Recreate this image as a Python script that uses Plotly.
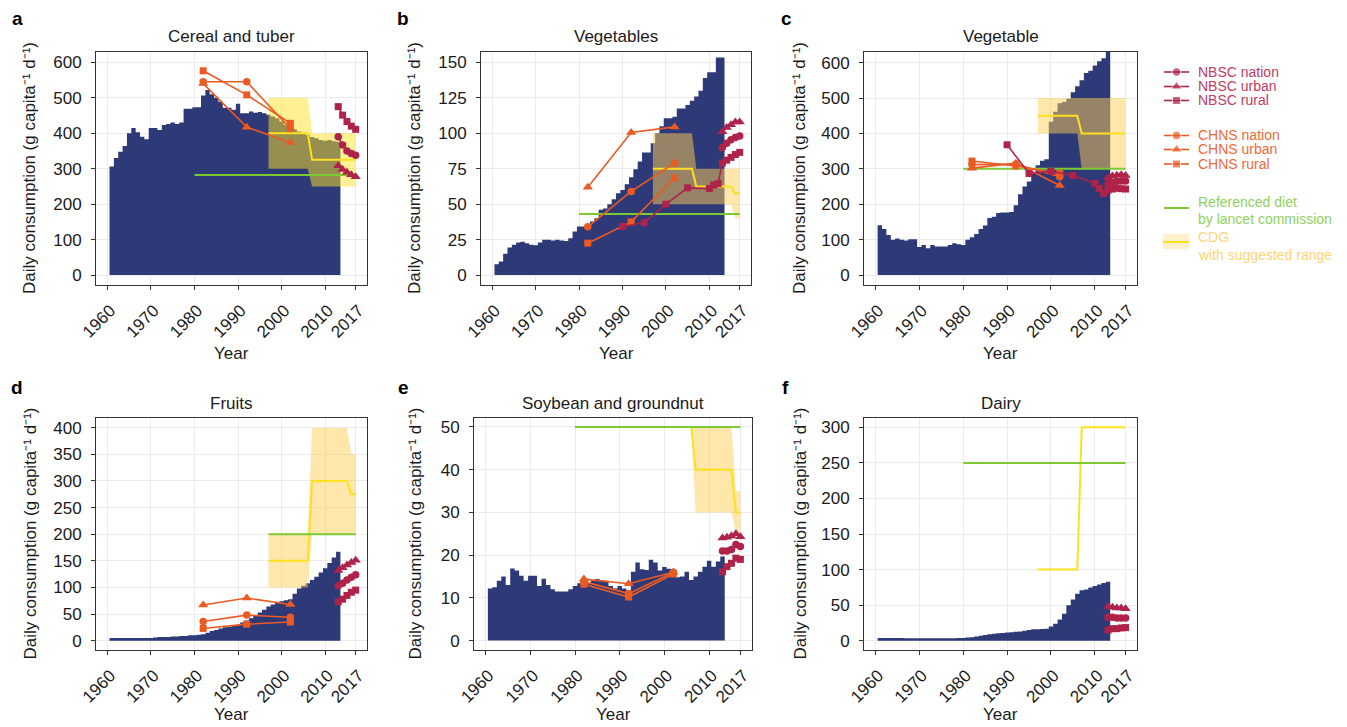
import plotly.graph_objects as go

W, H = 1347, 727
FONT = "Liberation Sans, Arial, Helvetica, sans-serif"

# ---------------- data ----------------
years = list(range(1961, 2014))

cereal_tuber = [306, 330, 348, 364, 400, 415, 403, 390, 383, 415,
                415, 409, 423, 426, 430, 426, 430, 469, 469, 473,
                473, 506, 522, 510, 500, 489, 472, 472, 466, 483,
                456, 456, 461, 458, 460, 456, 452, 447, 442, 433,
                423, 419, 411, 405, 400, 395, 389, 386, 381, 379,
                381, 377, 376]
vegetables_b = [7.7, 9.6, 15, 19.5, 21.4, 23, 23.5, 22.5, 21.4, 21,
                23, 24.9, 24.9, 24.4, 24.9, 24.4, 24, 26, 30.8, 34.3,
                34.3, 36, 37.8, 40, 46, 47, 50, 53.5, 57.7, 60,
                64, 69, 74.6, 80, 86.4, 86.4, 93, 100, 105, 110.6,
                110.6, 111.7, 117.4, 117.4, 120, 123, 126, 130, 139, 143,
                143, 153.5, 153.5]
vegetable_c = [141, 130, 113, 100, 103, 100, 98, 101, 101, 79,
               85, 76, 85, 81, 81, 81, 85, 90, 87, 85,
               100, 107, 116, 130, 140, 161, 165, 175, 177, 177,
               178, 197, 228, 250, 264, 287, 310, 323, 327, 433,
               461, 485, 489, 498, 516, 533, 550, 571, 577, 592,
               604, 612, 630]
fruits = [5, 5, 5, 5, 5, 5, 5, 5, 5, 5,
          6, 7, 7, 7, 8, 8, 9, 9, 10, 10,
          11, 12, 15, 18, 20, 23, 25, 26, 28, 30,
          34, 38, 42, 48, 53, 58, 64, 68, 71, 74,
          76, 78, 88, 98, 103, 108, 114, 120, 128, 136,
          146, 156, 167]
soy_groundnut = [12.2, 12.5, 14, 15, 13, 16.9, 16.4, 15.2, 14, 15.2,
                 15.2, 12.8, 14.5, 13, 12, 11.5, 11.5, 11.5, 12, 12.8,
                 13.4, 14, 13.4, 14, 14.4, 14.2, 14, 12.8, 12.2, 12.8,
                 12.2, 11.5, 16.1, 18.3, 16.7, 16.5, 18.9, 18.3, 16.4, 17.2,
                 16.8, 16.1, 14.8, 15.0, 16.1, 14.2, 15.0, 16.1, 17.3, 18.7,
                 17.3, 18.5, 19.7]
dairy = [4, 4, 4, 4, 4, 4, 3.5, 3.5, 3.5, 3.5,
         3.5, 3.5, 3.5, 3.5, 3.5, 3.5, 3.5, 3.5, 4, 4,
         4.5, 5, 6, 7, 8, 9, 10, 10.5, 11, 11.5,
         12, 12.5, 13, 14, 15, 16, 16, 16.5, 17, 20,
         24, 30, 38, 50, 58, 66, 71, 72, 75, 77,
         79, 81, 83]

# CHNS surveys
chns_years = [1982, 1992, 2002]
chns_nation_a = [545, 545, 413]
chns_urban_a = [540, 417, 374]
chns_rural_a = [576, 508, 428]
chns_nation_b = [34, 59, 79]
chns_urban_b = [62, 100.5, 104.5]
chns_rural_b = [22.5, 37.5, 68.5]
chns_nation_c = [312, 313, 278]
chns_urban_c = [302, 316, 253]
chns_rural_c = [322, 308, 287]
chns_nation_d = [36, 48, 44]
chns_urban_d = [67, 80, 68]
chns_rural_d = [23, 31, 35]
chns_nation_e = [13.8, 11, 16]
chns_urban_e = [14.4, 13.3, 16]
chns_rural_e = [13.2, 10.2, 15.6]

# NBSC statistics
nbsc_years = [2013, 2014, 2015, 2016, 2017]
nbsc_rural_long_years = [1990, 1995, 2000, 2005, 2010, 2011, 2012, 2013, 2014, 2015, 2016, 2017]
nbsc_nation_a = [390, 367, 350, 343, 338]
nbsc_urban_a = [308, 298, 290, 283, 277]
nbsc_rural_a = [475, 451, 433, 420, 411]
nbsc_nation_b = [90, 93, 95.5, 97, 98]
nbsc_urban_b = [101, 104, 106, 108, 108]
nbsc_rural_b = [34.3, 37, 50, 61.5, 61, 63.5, 64.5, 79, 81, 83, 85, 86.5]
nbsc_nation_c = [258, 262, 265, 266, 266]
nbsc_urban_c = [275, 280, 282, 283, 281]
nbsc_rural_c = [368, 287, 293, 281, 259, 245, 231, 240, 243, 245, 244, 243]
nbsc_nation_d = [103, 108, 114, 119, 124]
nbsc_urban_d = [132, 137, 142, 147, 151]
nbsc_rural_d = [73, 78, 85, 91, 95]
nbsc_nation_e = [21, 21, 21.3, 22.5, 22]
nbsc_urban_e = [24, 24.2, 24.5, 25, 24.3]
nbsc_rural_e = [16.1, 17.3, 18.1, 19.3, 19]
nbsc_nation_f = [33, 33, 32, 32, 32]
nbsc_urban_f = [48, 47, 46, 46, 45]
nbsc_rural_f = [15, 17, 17, 18, 18.5]

# Chinese Dietary Guidelines (CDG) with suggested range
cdg_years = [1997, 2006, 2007, 2015, 2016, 2017]
cdg_mid_a = [400, 400, 325, 325, 325, 325]
cdg_low_a = [300, 300, 250, 250, 250, 250]
cdg_high_a = [500, 500, 400, 400, 400, 400]
cdg_mid_b = [75, 75, 62.5, 62.5, 57.5, 57.5]
cdg_low_b = [50, 50, 50, 50, 40, 40]
cdg_high_b = [100, 100, 75, 75, 75, 75]
cdg_mid_c = [450, 450, 400, 400, 400, 400]
cdg_low_c = [400, 400, 300, 300, 300, 300]
cdg_high_c = [500, 500, 500, 500, 500, 500]
cdg_mid_d = [150, 150, 300, 300, 275, 275]
cdg_low_d = [100, 100, 200, 200, 200, 200]
cdg_high_d = [200, 200, 400, 400, 350, 350]
cdg_mid_e = [50, 50, 40, 40, 30, 30]
cdg_low_e = [50, 50, 30, 30, 25, 25]
cdg_high_e = [50, 50, 50, 50, 35, 35]
cdg_mid_f = [100, 100, 300, 300, 300, 300]
cdg_low_f = [100, 100, 300, 300, 300, 300]
cdg_high_f = [100, 100, 300, 300, 300, 300]

# Referenced diet by Lancet commission
lancet_start = [1980, 1980, 1980, 1997, 1980, 1980]
lancet_end = 2017
lancet_value = [282, 43, 300, 200, 50, 250]

panel_titles = ["Cereal and tuber", "Vegetables", "Vegetable",
                "Fruits", "Soybean and groundnut", "Dairy"]
panel_letters = ["a", "b", "c", "d", "e", "f"]
y_title = "Daily consumption (g capita\u207b\u00b9 d\u207b\u00b9)"
year_ticks = [1960, 1970, 1980, 1990, 2000, 2010, 2017]
ticks_a = [0, 100, 200, 300, 400, 500, 600]
ticks_b = [0, 25, 50, 75, 100, 125, 150]
ticks_c = [0, 100, 200, 300, 400, 500, 600]
ticks_d = [0, 50, 100, 150, 200, 250, 300, 350, 400]
ticks_e = [0, 10, 20, 30, 40, 50]
ticks_f = [0, 50, 100, 150, 200, 250, 300]

# ---------------- style ----------------
BLUE = "#2E3A78"
CRIMSON = "#AF2249"
ORANGE = "#EC5A24"
GREEN = "#7CC934"
YELLOW = "#FFE01F"
BAND_A = "rgba(255,228,40,0.5)"
BAND = "rgba(255,205,85,0.5)"
TICK_SIZE = 17

panels = [
    dict(supply=cereal_tuber, box=(96, 52, 367, 285), yr=[-28, 629], ticks=ticks_a,
         chns=(chns_nation_a, chns_urban_a, chns_rural_a),
         nbsc=(nbsc_nation_a, nbsc_urban_a, nbsc_years, nbsc_rural_a),
         cdg=(cdg_low_a, cdg_mid_a, cdg_high_a), band=BAND_A),
    dict(supply=vegetables_b, box=(481, 52, 751, 285), yr=[-7, 157.3], ticks=ticks_b,
         chns=(chns_nation_b, chns_urban_b, chns_rural_b),
         nbsc=(nbsc_nation_b, nbsc_urban_b, nbsc_rural_long_years, nbsc_rural_b),
         cdg=(cdg_low_b, cdg_mid_b, cdg_high_b), band=BAND),
    dict(supply=vegetable_c, box=(864, 52, 1137, 285), yr=[-28, 630], ticks=ticks_c,
         chns=(chns_nation_c, chns_urban_c, chns_rural_c),
         nbsc=(nbsc_nation_c, nbsc_urban_c, nbsc_rural_long_years, nbsc_rural_c),
         cdg=(cdg_low_c, cdg_mid_c, cdg_high_c), band=BAND),
    dict(supply=fruits, box=(96, 418, 367, 650), yr=[-17.5, 418.2], ticks=ticks_d,
         chns=(chns_nation_d, chns_urban_d, chns_rural_d),
         nbsc=(nbsc_nation_d, nbsc_urban_d, nbsc_years, nbsc_rural_d),
         cdg=(cdg_low_d, cdg_mid_d, cdg_high_d), band=BAND),
    dict(supply=soy_groundnut, box=(474, 418, 752, 650), yr=[-2.2, 52.1], ticks=ticks_e,
         chns=(chns_nation_e, chns_urban_e, chns_rural_e),
         nbsc=(nbsc_nation_e, nbsc_urban_e, nbsc_years, nbsc_rural_e),
         cdg=(cdg_low_e, cdg_mid_e, cdg_high_e), band=BAND),
    dict(supply=dairy, box=(864, 418, 1137, 650), yr=[-13, 313.1], ticks=ticks_f,
         chns=None,
         nbsc=(nbsc_nation_f, nbsc_urban_f, nbsc_years, nbsc_rural_f),
         cdg=(cdg_low_f, cdg_mid_f, cdg_high_f), band=BAND),
]

XR = [1957.4, 2019.6]
SYM = {"nation": ("circle", 7.5), "urban": ("triangle-up", 9), "rural": ("square", 7)}

fig = go.Figure()
layout = dict(
    width=W, height=H, template="none",
    margin=dict(l=0, r=0, t=0, b=0),
    paper_bgcolor="white", plot_bgcolor="rgba(0,0,0,0)",
    showlegend=False, font=dict(family=FONT, size=16, color="#1A1A1A"),
)
annotations = []

for i, p in enumerate(panels, start=1):
    xa, ya = f"x{i}", f"y{i}"
    l, t, r, b = p["box"]
    common = dict(showgrid=True, gridcolor="#EBEBEB", gridwidth=1, zeroline=False,
                  showline=True, mirror=True, linecolor="#333333", linewidth=1,
                  ticks="outside", ticklen=4, tickcolor="#333333", tickwidth=1,
                  tickfont=dict(size=TICK_SIZE, family=FONT, color="#1A1A1A"),
                  automargin=False, fixedrange=True)
    layout[f"xaxis{i}"] = dict(domain=[l / W, r / W], range=XR, anchor=ya,
                               tickmode="array", tickvals=year_ticks,
                               ticktext=[str(v) for v in year_ticks], tickangle=-45,
                               ticklabelstandoff=4, ticklabelshift=3, **common)
    layout[f"yaxis{i}"] = dict(domain=[1 - b / H, 1 - t / H], range=p["yr"], anchor=xa,
                               tickmode="array", tickvals=p["ticks"],
                               ticktext=[str(v) for v in p["ticks"]],
                               ticklabelstandoff=6, **common)

    # FAO supply (stepped area)
    sup = p["supply"]
    xs = [y - 0.5 for y in years] + [years[-1] + 0.5]
    ys = sup + [sup[-1]]
    fig.add_trace(go.Scatter(x=xs, y=ys, mode="lines", line=dict(width=0, shape="hv"),
                             fill="tozeroy", fillcolor=BLUE, xaxis=xa, yaxis=ya,
                             hoverinfo="skip"))
    # CDG range band
    low, mid, high = p["cdg"]
    if any(h != lo for h, lo in zip(high, low)):
        fig.add_trace(go.Scatter(x=cdg_years + cdg_years[::-1], y=high + low[::-1],
                                 mode="lines", line=dict(width=0), fill="toself",
                                 fillcolor=p["band"], xaxis=xa, yaxis=ya, hoverinfo="skip"))
    fig.add_trace(go.Scatter(x=cdg_years, y=mid, mode="lines",
                             line=dict(color=YELLOW, width=2), xaxis=xa, yaxis=ya))
    # Lancet reference
    lv = lancet_value[i - 1]
    fig.add_trace(go.Scatter(x=[lancet_start[i - 1], lancet_end], y=[lv, lv], mode="lines",
                             line=dict(color=GREEN, width=2), xaxis=xa, yaxis=ya))
    # CHNS
    if p["chns"]:
        for key, vals in zip(["rural", "nation", "urban"], [p["chns"][2], p["chns"][0], p["chns"][1]]):
            s, sz = SYM[key]
            fig.add_trace(go.Scatter(x=chns_years, y=vals, mode="lines+markers",
                                     line=dict(color=ORANGE, width=1.6),
                                     marker=dict(symbol=s, size=sz, color=ORANGE),
                                     xaxis=xa, yaxis=ya))
    # NBSC
    nat, urb, ryears, rur = p["nbsc"]
    for key, xx, vals in [("rural", ryears, rur), ("nation", nbsc_years, nat), ("urban", nbsc_years, urb)]:
        s, sz = SYM[key]
        fig.add_trace(go.Scatter(x=xx, y=vals, mode="lines+markers",
                                 line=dict(color=CRIMSON, width=1.6),
                                 marker=dict(symbol=s, size=sz, color=CRIMSON),
                                 xaxis=xa, yaxis=ya))

    # texts
    cx = (l + r) / 2
    annotations.append(dict(text=panel_titles[i - 1], x=cx / W, y=1 - (t - 15) / H,
                            xref="paper", yref="paper", showarrow=False,
                            xanchor="center", yanchor="middle",
                            font=dict(size=17, family=FONT, color="#1A1A1A")))
    year_y = (b + 68) if i <= 3 else (H - 13)
    annotations.append(dict(text="Year", x=cx / W, y=1 - year_y / H,
                            xref="paper", yref="paper", showarrow=False,
                            xanchor="center", yanchor="middle", borderpad=0,
                            font=dict(size=17, family=FONT, color="#1A1A1A")))
    ytx = {1: 29.5, 2: 414.5, 3: 799.5, 4: 29.5, 5: 414.5, 6: 799.5}[i]
    annotations.append(dict(text=y_title,
                            x=ytx / W, y=1 - ((t + b) / 2) / H, textangle=-90,
                            xref="paper", yref="paper", showarrow=False,
                            xanchor="center", yanchor="middle",
                            font=dict(size=17, family=FONT, color="#1A1A1A")))
    lx = {1: 17, 2: 403, 3: 786, 4: 17, 5: 403, 6: 785}[i]
    ly = 18 if i <= 3 else 387
    annotations.append(dict(text=panel_letters[i - 1], x=lx / W, y=1 - ly / H,
                            xref="paper", yref="paper", showarrow=False,
                            xanchor="center", yanchor="middle",
                            font=dict(size=19, family=FONT, color="#000000", weight="bold")))

# ---------------- manual legend (overlay axis in pixel units) ----------------
layout["xaxis7"] = dict(domain=[0, 1], range=[0, W], visible=False, anchor="y7", fixedrange=True)
layout["yaxis7"] = dict(domain=[0, 1], range=[H, 0], visible=False, anchor="x7", fixedrange=True)

legend_rows = [
    ("NBSC nation", CRIMSON, "#C23B62", "nation", 72),
    ("NBSC urban", CRIMSON, "#C23B62", "urban", 86.5),
    ("NBSC rural", CRIMSON, "#C23B62", "rural", 100.5),
    ("CHNS nation", ORANGE, "#F06A35", "nation", 135.5),
    ("CHNS urban", ORANGE, "#F06A35", "urban", 149.5),
    ("CHNS rural", ORANGE, "#F06A35", "rural", 164),
]
for label, col, tcol, key, yy in legend_rows:
    s, sz = SYM[key]
    fig.add_trace(go.Scatter(x=[1164, 1176.5, 1189], y=[yy, yy, yy], mode="lines+markers",
                             line=dict(color=col, width=1.6),
                             marker=dict(symbol=s, size=[0, sz + 1, 0], color=col),
                             xaxis="x7", yaxis="y7", hoverinfo="skip"))
    annotations.append(dict(text=label, x=1196 / W, y=1 - yy / H, xref="paper", yref="paper",
                            showarrow=False, xanchor="left", yanchor="middle",
                            font=dict(size=14, family=FONT, color=tcol)))

fig.add_trace(go.Scatter(x=[1164, 1189], y=[208, 208], mode="lines",
                         line=dict(color=GREEN, width=2), xaxis="x7", yaxis="y7"))
fig.add_trace(go.Scatter(x=[1163, 1189, 1189, 1163], y=[234, 234, 249, 249], mode="lines",
                         line=dict(width=0), fill="toself", fillcolor="rgba(255,205,85,0.3)",
                         xaxis="x7", yaxis="y7"))
fig.add_trace(go.Scatter(x=[1163, 1189], y=[242, 242], mode="lines",
                         line=dict(color=YELLOW, width=2), xaxis="x7", yaxis="y7"))
for txt, yy, col in [("Referenced diet", 201.5, "#8FD160"),
                     ("by lancet commission", 219, "#8FD160"),
                     ("CDG", 237, "#FFD477"),
                     ("with suggested range", 255, "#FFD477")]:
    annotations.append(dict(text=txt, x=1196 / W, y=1 - yy / H, xref="paper", yref="paper",
                            showarrow=False, xanchor="left", yanchor="middle",
                            font=dict(size=14, family=FONT, color=col)))

layout["annotations"] = annotations
fig.update_layout(**layout)
fig.write_html("out.html")
